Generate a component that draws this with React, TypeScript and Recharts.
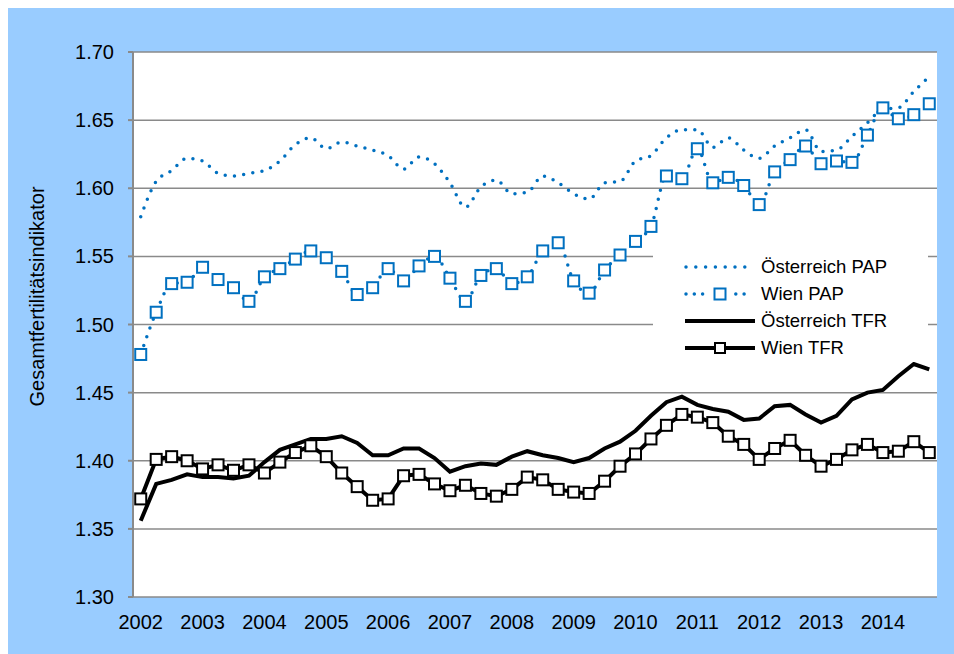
import React from "react";
import {
  LineChart,
  Line,
  XAxis,
  YAxis,
  CartesianGrid,
  Legend,
  Label,
} from "recharts";

// quarterly values, 2002 Q1 .. 2014 Q4
const years = [2002, 2003, 2004, 2005, 2006, 2007, 2008, 2009, 2010, 2011, 2012, 2013, 2014];

const oesterreichPAP = [
  1.579, 1.605, 1.613, 1.622, 1.620, 1.611, 1.609, 1.611,
  1.613, 1.620, 1.632, 1.637, 1.629, 1.634, 1.631, 1.628,
  1.624, 1.614, 1.623, 1.618, 1.604, 1.586, 1.601, 1.606,
  1.596, 1.597, 1.609, 1.604, 1.596, 1.592, 1.604, 1.605,
  1.620, 1.624, 1.637, 1.643, 1.643, 1.630, 1.637, 1.628,
  1.622, 1.631, 1.637, 1.643, 1.627, 1.628, 1.638, 1.648,
  1.658, 1.659, 1.671, 1.682,
];

const wienPAP = [
  1.478, 1.509, 1.530, 1.531, 1.542, 1.533, 1.527, 1.517,
  1.535, 1.541, 1.548, 1.554, 1.549, 1.539, 1.522, 1.527,
  1.541, 1.532, 1.543, 1.550, 1.534, 1.517, 1.536, 1.541,
  1.530, 1.535, 1.554, 1.560, 1.532, 1.523, 1.540, 1.551,
  1.561, 1.572, 1.609, 1.607, 1.629, 1.604, 1.608, 1.602,
  1.588, 1.612, 1.621, 1.631, 1.618, 1.620, 1.619, 1.639,
  1.659, 1.651, 1.654, 1.662,
];

const oesterreichTFR = [
  1.356, 1.383, 1.386, 1.390, 1.388, 1.388, 1.387, 1.389,
  1.399, 1.408, 1.412, 1.416, 1.416, 1.418, 1.413, 1.404,
  1.404, 1.409, 1.409, 1.402, 1.392, 1.396, 1.398, 1.397,
  1.403, 1.407, 1.404, 1.402, 1.399, 1.402, 1.409, 1.414,
  1.422, 1.433, 1.443, 1.447, 1.441, 1.438, 1.436, 1.430,
  1.431, 1.440, 1.441, 1.434, 1.428, 1.433, 1.445, 1.450,
  1.452, 1.462, 1.471, 1.467,
];

const wienTFR = [
  1.372, 1.401, 1.403, 1.400, 1.394, 1.397, 1.393, 1.397,
  1.391, 1.399, 1.406, 1.411, 1.403, 1.391, 1.381, 1.371,
  1.372, 1.389, 1.390, 1.383, 1.378, 1.382, 1.376, 1.374,
  1.379, 1.388, 1.386, 1.379, 1.377, 1.376, 1.385, 1.396,
  1.405, 1.416, 1.426, 1.434, 1.432, 1.428, 1.418, 1.412,
  1.401, 1.409, 1.415, 1.404, 1.396, 1.401, 1.408, 1.412,
  1.406, 1.407, 1.414, 1.406,
];

const yTicks = [1.3, 1.35, 1.4, 1.45, 1.5, 1.55, 1.6, 1.65, 1.7];

const data = oesterreichPAP.map((v, i) => ({
  idx: i,
  quarter: `${years[Math.floor(i / 4)]} Q${(i % 4) + 1}`,
  oPAP: v,
  wPAP: wienPAP[i],
  oTFR: oesterreichTFR[i],
  wTFR: wienTFR[i],
}));

const boundaryTicks = Array.from({ length: data.length + 1 }, (_, k) => k - 0.5);
const yearTicks = years.map((_, k) => k * 4);

const BLUE = "#0070c0";
const GRID = "#8a8a8a";
const FONT = "'Liberation Sans', Arial, sans-serif";

const BlueSquare = (props: any) => {
  const { cx, cy, index } = props;
  if (cx == null || cy == null) return <g key={index} />;
  return (
    <rect key={index} x={cx - 5.5} y={cy - 5.5} width={11} height={11}
      fill="#fff" stroke={BLUE} strokeWidth={2} />
  );
};

const BlackSquare = (props: any) => {
  const { cx, cy, index } = props;
  if (cx == null || cy == null) return <g key={index} />;
  return (
    <rect key={index} x={cx - 5.5} y={cy - 5.5} width={11} height={11}
      fill="#fff" stroke="#000" strokeWidth={2} />
  );
};

const legendRows = [
  { name: "Österreich PAP", kind: "dots" },
  { name: "Wien PAP", kind: "dotsSquare" },
  { name: "Österreich TFR", kind: "line" },
  { name: "Wien TFR", kind: "lineSquare" },
];

function LegendSymbol({ kind }: { kind: string }) {
  if (kind === "dots") {
    return (
      <svg width={72} height={20}>
        <line x1={2} y1={10} x2={62} y2={10} stroke={BLUE} strokeWidth={3.5}
          strokeDasharray="0 9.8" strokeLinecap="round" />
      </svg>
    );
  }
  if (kind === "dotsSquare") {
    return (
      <svg width={72} height={20}>
        <line x1={2} y1={10} x2={62} y2={10} stroke={BLUE} strokeWidth={3.5}
          strokeDasharray="0 8.3" strokeLinecap="round" />
        <rect x={25} y={4.5} width={22} height={11} fill="#fff" />
        <rect x={30.5} y={4.5} width={11} height={11} fill="#fff" stroke={BLUE} strokeWidth={2} />
      </svg>
    );
  }
  return (
    <svg width={72} height={20}>
      <line x1={1} y1={10} x2={71} y2={10} stroke="#000" strokeWidth={4} />
      {kind === "lineSquare" && (
        <rect x={31} y={5} width={10} height={10} fill="#fff" stroke="#000" strokeWidth={2} />
      )}
    </svg>
  );
}

function LegendBox() {
  return (
    <div style={{ background: "#fff", width: 275, height: 115, paddingTop: 6, boxSizing: "border-box",
      fontFamily: FONT, fontSize: 18.5, color: "#000" }}>
      {legendRows.map((r) => (
        <div key={r.name} style={{ display: "flex", alignItems: "center", height: 27 }}>
          <div style={{ marginLeft: 31, width: 72, height: 20 }}>
            <LegendSymbol kind={r.kind} />
          </div>
          <span style={{ marginLeft: 5, lineHeight: "20px" }}>{r.name}</span>
        </div>
      ))}
    </div>
  );
}

const renderYTitle = (props: any) => {
  const { viewBox } = props;
  const x = viewBox.x + 29;
  const y = viewBox.y + viewBox.height / 2 - 28;
  return (
    <text x={x} y={y} transform={`rotate(-90, ${x}, ${y})`} textAnchor="middle"
      dominantBaseline="central" fontFamily={FONT} fontSize={20} fill="#000">
      Gesamtfertilitätsindikator
    </text>
  );
};

export default function App() {
  return (
    <div style={{ position: "absolute", left: 8, top: 8, width: 946, height: 646, background: "#99ccff" }}>
      <LineChart width={946} height={646} data={data}
        margin={{ top: 44, right: 17, bottom: 0, left: 0 }}>
        <CartesianGrid horizontal vertical={false} stroke={GRID} strokeWidth={1.5}
          fill="#ffffff" fillOpacity={1} />
        <XAxis xAxisId="ticks" type="number" dataKey="idx" domain={[-0.5, 51.5]}
          ticks={boundaryTicks} tickFormatter={() => ""} tickSize={5} height={0}
          stroke={GRID} strokeWidth={2} />
        <XAxis xAxisId="years" type="number" dataKey="idx" domain={[-0.5, 51.5]}
          ticks={yearTicks} tickFormatter={(i: number) => String(years[Math.round(i / 4)])}
          tickLine={false} axisLine={false} tickSize={5} tickMargin={13} height={57}
          interval={0}
          tick={{ fill: "#000", fontSize: 20, fontFamily: FONT }} />
        <YAxis type="number" domain={[1.3, 1.7]} ticks={yTicks} width={125}
          tickFormatter={(v: number) => v.toFixed(2)} tickSize={5} tickMargin={14}
          stroke={GRID} strokeWidth={2} interval={0}
          tick={{ fill: "#000", fontSize: 20, fontFamily: FONT }}>
          <Label content={renderYTitle} />
        </YAxis>
        <Legend layout="vertical" align="center" verticalAlign="middle"
          wrapperStyle={{ left: 645, top: 239, width: 275, height: 115 }}
          content={() => <LegendBox />} />
        <Line xAxisId="years" type="monotone" dataKey="oPAP" name="Österreich PAP"
          stroke={BLUE} strokeWidth={3.5} strokeDasharray="0 9.3" strokeLinecap="round"
          dot={false} activeDot={false} isAnimationActive={false} />
        <Line xAxisId="years" type="monotone" dataKey="wPAP" name="Wien PAP"
          stroke={BLUE} strokeWidth={3.5} strokeDasharray="0 9.3" strokeLinecap="round"
          dot={BlueSquare} activeDot={false} isAnimationActive={false} />
        <Line xAxisId="years" type="linear" dataKey="oTFR" name="Österreich TFR"
          stroke="#000" strokeWidth={4} dot={false} activeDot={false} isAnimationActive={false} />
        <Line xAxisId="years" type="linear" dataKey="wTFR" name="Wien TFR"
          stroke="#000" strokeWidth={4} dot={BlackSquare} activeDot={false} isAnimationActive={false} />
      </LineChart>
    </div>
  );
}
